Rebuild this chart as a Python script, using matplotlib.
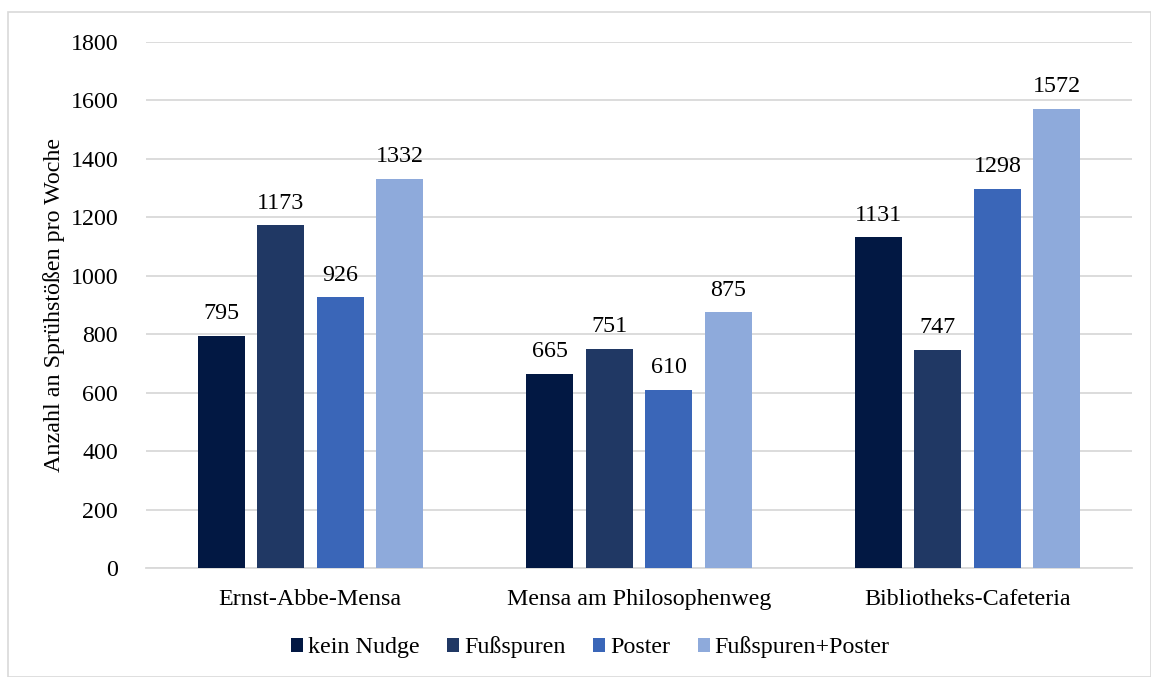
import matplotlib.pyplot as plt
import numpy as np
from matplotlib.patches import Rectangle

plt.rcParams["font.family"] = ["Liberation Serif", "DejaVu Serif"]

locations = ["Ernst-Abbe-Mensa", "Mensa am Philosophenweg", "Bibliotheks-Cafeteria"]
series = ["kein Nudge", "Fußspuren", "Poster", "Fußspuren+Poster"]
kein_nudge = [795, 665, 1131]
fussspuren = [1173, 751, 747]
poster = [926, 610, 1298]
fussspuren_poster = [1332, 875, 1572]
colors = ["#021843", "#203864", "#3a66b8", "#8eaadb"]

values = [kein_nudge, fussspuren, poster, fussspuren_poster]

fig = plt.figure(figsize=(11.51, 6.77), dpi=100)
ax = fig.add_axes([0.1268, 0.161, 0.8567, 0.777])

# light frame around the chart area
fig.patches.append(Rectangle((8 / 1151, 0), 1 - 8 / 1151, 1 - 12 / 677, transform=fig.transFigure,
                             fill=False, edgecolor="#d9d9d9", linewidth=1.2))

x = np.arange(len(locations))
width = 0.143
step = 0.181
fs = 17.3
for i, (name, vals) in enumerate(zip(series, values)):
    offset = (i - 1.5) * step
    bars = ax.bar(x + offset, vals, width, color=colors[i], label=name, zorder=3)
    for bar, v in zip(bars, vals):
        ax.text(bar.get_x() + bar.get_width() / 2, v + 40, str(v),
                ha="center", va="bottom", fontsize=fs)

ax.set_xlim(-0.5, 2.5)
ax.set_ylim(0, 1800)
ax.set_yticks(np.arange(0, 1801, 200))
ax.set_xticks(x)
ax.set_xticklabels(locations)
ax.tick_params(axis="both", length=0, labelsize=fs)
ax.tick_params(axis="y", pad=20)
ax.tick_params(axis="x", pad=15)
ax.grid(axis="y", color="#d9d9d9", linewidth=1.3, zorder=0)
for side in ["top", "right", "left"]:
    ax.spines[side].set_visible(False)
ax.spines["bottom"].set_color("#d9d9d9")
ax.spines["bottom"].set_linewidth(1.3)
ax.set_ylabel("Anzahl an Sprühstößen pro Woche", fontsize=fs)
ax.yaxis.set_label_coords(-0.082, 0.5)

fig.legend(loc="center", bbox_to_anchor=(0.513, 0.044), ncol=4, frameon=False,
           fontsize=fs, handlelength=0.5, handleheight=0.5, handletextpad=0.2,
           columnspacing=1.15)

fig.savefig("out.png", dpi=100)
